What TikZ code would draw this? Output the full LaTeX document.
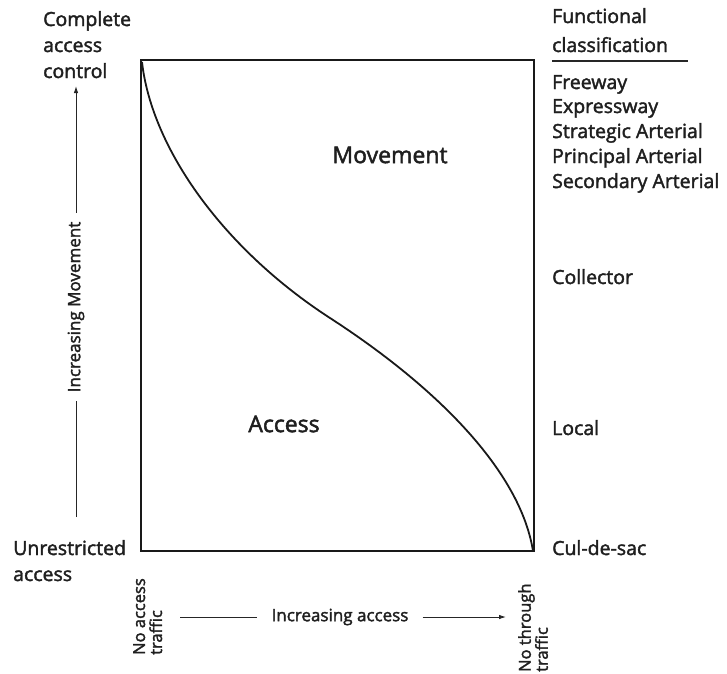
\documentclass[tikz,border=0pt]{standalone}
\usepackage{fontspec}
\setmainfont{Open Sans}[FakeBold=2]
\usetikzlibrary{arrows.meta}
\begin{document}
\begin{tikzpicture}[x=1pt,y=-1pt,
  lbl/.style={font=\fontsize{19.5}{24}\selectfont, inner sep=0pt, anchor=base west, text=black!88},
  big/.style={font=\fontsize{23}{26}\selectfont, inner sep=0pt, text=black!88},
  axis/.style={font=\fontsize{17}{20}\selectfont, text=black!88, inner ysep=0pt},
  small/.style={font=\fontsize{16.5}{17}\selectfont, text=black!88, inner sep=0pt, align=left, rotate=90},
  thinline/.style={line width=0.9pt, black!85},
  arr/.style={thinline, -{Latex[length=7pt,width=4.5pt]}},
  frame/.style={line width=2pt, black!90},
  curve/.style={line width=1.8pt, black!90}]
\useasboundingbox (0,0) rectangle (727,673);

% frame and curve
\coordinate (tl) at (141,60);
\coordinate (br) at (534,551);
\draw[frame] (tl) rectangle (br);
\coordinate (cs) at (142,62);
\coordinate (cm) at (330,318);
\coordinate (ce) at (533,551);
\draw[curve] (cs) .. controls (152,150) and (225,250) .. (cm)
                  .. controls (435,386) and (520,470) .. (ce);

\node[big] (movement) at (390,155) {Movement};
\node[big] (access) at (284,424) {Access};

% left labels
\node[lbl] (complete) at (43,26) {Complete};
\node[lbl] (caccess) at (43,52) {access};
\node[lbl] (control) at (43,78) {control};
\node[lbl] (unres) at (13,555) {Unrestricted};
\node[lbl] (uaccess) at (13,581) {access};

% vertical axis
\node[axis, rotate=90, inner xsep=9pt] (incmov) at (76,307) {Increasing Movement};
\coordinate (vbot) at (76,517);
\coordinate (vtop) at (76,86);
\draw[thinline] (vbot) -- (incmov);
\draw[arr] (incmov) -- (vtop);

% right labels
\node[lbl] (functional) at (552,23) {Functional};
\node[lbl] (classif) at (552,52) {classification};
\coordinate (ul1) at (552,61);
\coordinate (ul2) at (688,61);
\draw[line width=1.5pt, black!85] (ul1) -- (ul2);
\node[lbl] (freeway) at (552,89) {Freeway};
\node[lbl] (express) at (552,113) {Expressway};
\node[lbl] (strat) at (552,138) {Strategic Arterial};
\node[lbl] (princ) at (552,163) {Principal Arterial};
\node[lbl] (second) at (552,188) {Secondary Arterial};
\node[lbl] (collector) at (552,284) {Collector};
\node[lbl] (local) at (552,435) {Local};
\node[lbl] (culdesac) at (552,555) {Cul-de-sac};

% bottom axis
\node[small, anchor=north west] (noaccess) at (133,655) {No access\\traffic};
\node[small, anchor=north west] (nothrough) at (518,672) {No through\\traffic};
\node[axis, inner xsep=14pt] (incacc) at (340,617) {Increasing access};
\coordinate (hl) at (180,617);
\coordinate (hr) at (506,617);
\draw[thinline] (hl) -- (incacc);
\draw[arr] (incacc) -- (hr);
\end{tikzpicture}
\end{document}
